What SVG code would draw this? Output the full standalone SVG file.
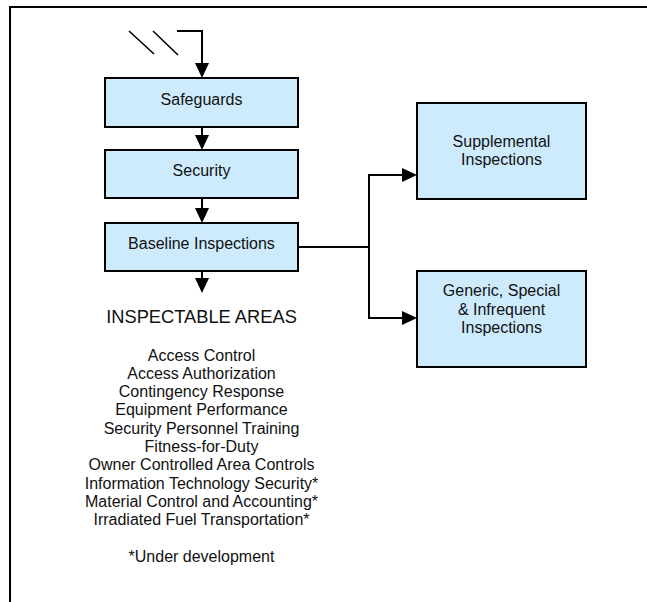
<svg xmlns="http://www.w3.org/2000/svg" width="647" height="602" viewBox="0 0 647 602">
<style>
.box{fill:#cdebfd;stroke:#000;stroke-width:2}
.lbl{font-family:"Liberation Sans",Arial,sans-serif;font-size:16px;fill:#111;text-anchor:middle}
.head{font-family:"Liberation Sans",Arial,sans-serif;font-size:18.3px;fill:#111;text-anchor:middle}
.conn{fill:none;stroke:#000;stroke-width:2}
.frame{fill:none;stroke:#000;stroke-width:2}
.slash{fill:none;stroke:#000;stroke-width:1.6}
</style>
<defs>
<marker id="arr" viewBox="0 0 15 14" refX="12" refY="7" markerWidth="15" markerHeight="14" markerUnits="userSpaceOnUse" orient="auto">
<path d="M0,0 L15,7 L0,14 z" fill="#000"/>
</marker>
</defs>
<rect width="647" height="602" fill="#fff"/>
<path class="frame" d="M10,602 V7 H647"/>
<g id="slashes">
<line class="slash" x1="129" y1="31" x2="154" y2="54"/>
<line class="slash" x1="153" y1="31" x2="178" y2="55"/>
</g>
<g id="connectors">
<path class="conn" d="M177,31 H202 V75" marker-end="url(#arr)"/>
<path class="conn" d="M202,127 V147" marker-end="url(#arr)"/>
<path class="conn" d="M202,198 V220" marker-end="url(#arr)"/>
<path class="conn" d="M202,271 V290" marker-end="url(#arr)"/>
<path class="conn" d="M298,247 H369 V175 H414" marker-end="url(#arr)"/>
<path class="conn" d="M369,247 V318 H414" marker-end="url(#arr)"/>
</g>
<g id="safeguards">
<rect class="box" x="105" y="78" width="193" height="49"/>
<text class="lbl" x="201.5" y="105">Safeguards</text>
</g>
<g id="security">
<rect class="box" x="105" y="150" width="193" height="48"/>
<text class="lbl" x="201.5" y="176">Security</text>
</g>
<g id="baseline">
<rect class="box" x="105" y="223" width="193" height="48"/>
<text class="lbl" x="201.5" y="249">Baseline Inspections</text>
</g>
<g id="supplemental">
<rect class="box" x="417" y="103" width="169" height="96"/>
<text class="lbl" x="501.5" y="147">Supplemental</text>
<text class="lbl" x="501.5" y="165">Inspections</text>
</g>
<g id="generic">
<rect class="box" x="417" y="271" width="169" height="96"/>
<text class="lbl" x="501.5" y="296">Generic, Special</text>
<text class="lbl" x="501.5" y="314.5">&amp; Infrequent</text>
<text class="lbl" x="501.5" y="333">Inspections</text>
</g>
<g id="areas">
<text class="head" x="201.5" y="323">INSPECTABLE AREAS</text>
<text class="lbl" x="201.5" y="360.5">Access Control</text>
<text class="lbl" x="201.5" y="378.8">Access Authorization</text>
<text class="lbl" x="201.5" y="397.1">Contingency Response</text>
<text class="lbl" x="201.5" y="415.4">Equipment Performance</text>
<text class="lbl" x="201.5" y="433.7">Security Personnel Training</text>
<text class="lbl" x="201.5" y="452">Fitness-for-Duty</text>
<text class="lbl" x="201.5" y="470.3">Owner Controlled Area Controls</text>
<text class="lbl" x="201.5" y="488.6">Information Technology Security*</text>
<text class="lbl" x="201.5" y="506.9">Material Control and Accounting*</text>
<text class="lbl" x="201.5" y="525.2">Irradiated Fuel Transportation*</text>
<text class="lbl" x="201.5" y="562">*Under development</text>
</g>
</svg>
